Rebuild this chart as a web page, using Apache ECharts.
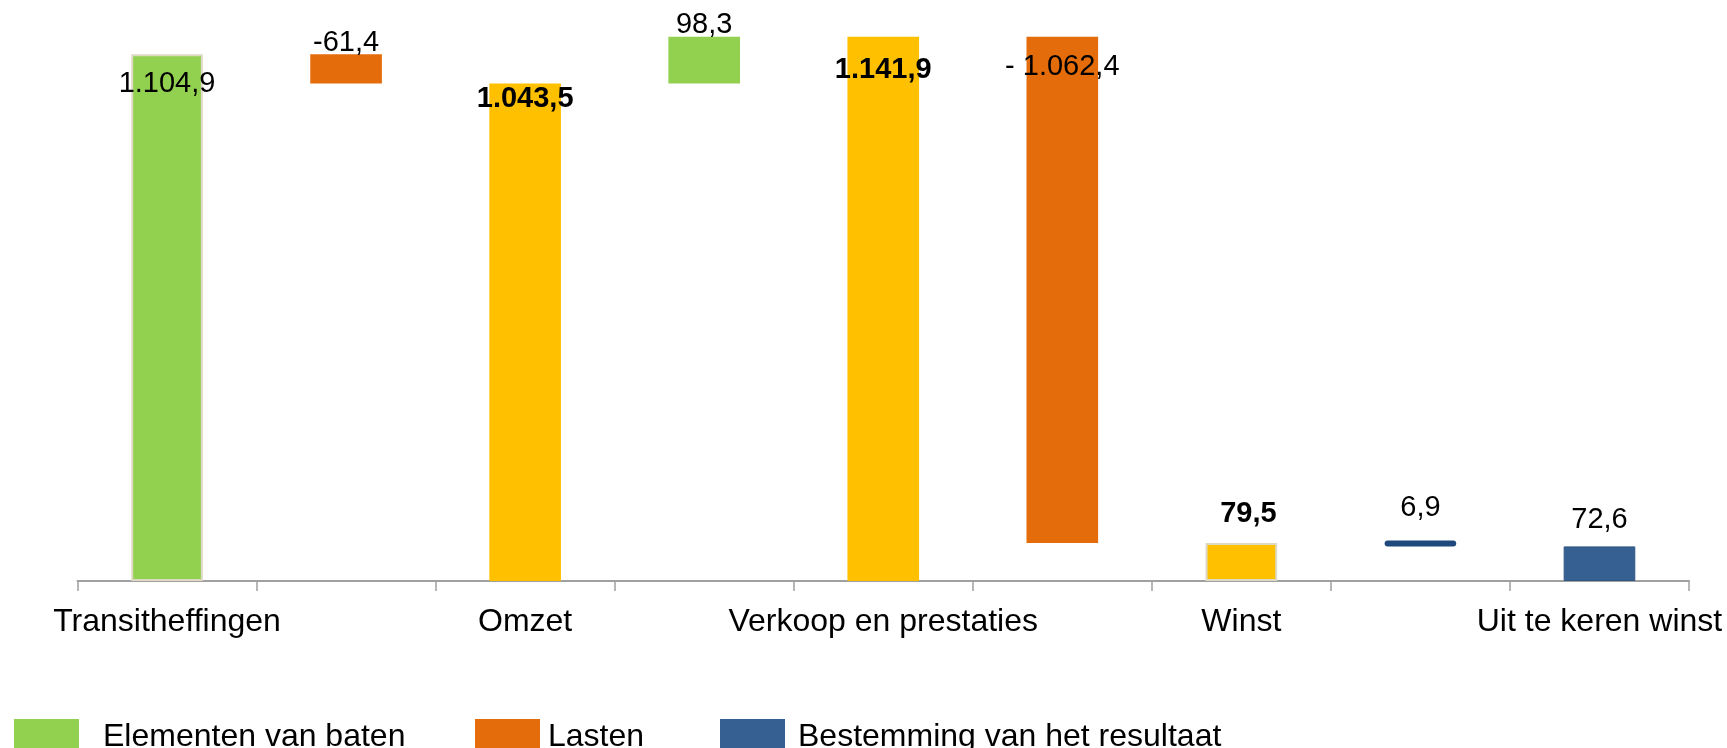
<!DOCTYPE html>
<html>
<head>
<meta charset="utf-8">
<script src="https://cdn.jsdelivr.net/npm/echarts@6/dist/echarts.min.js"></script>
<style>
html,body{margin:0;padding:0;background:#fff;}
#chart{width:1727px;height:748px;}
</style>
</head>
<body>
<div id="chart"></div>
<script>
// ---- Data ----
const categories = ['Transitheffingen', '', 'Omzet', '', 'Verkoop en prestaties', '', 'Winst', '', 'Uit te keren winst'];
const amounts = [1104.9, -61.4, 1043.5, 98.3, 1141.9, -1062.4, 79.5, -6.9, 72.6];
const isTotal = [true, false, true, false, true, false, true, false, true];
const kinds = ['baten', 'lasten', 'total', 'baten', 'total', 'lasten', 'total', 'bestemming', 'bestemming'];
const valueLabels = ['1.104,9', '-61,4', '1.043,5', '98,3', '1.141,9', '- 1.062,4', '79,5', '6,9', '72,6'];
const legendNames = ['Elementen van baten', 'Lasten', 'Bestemming van het resultaat'];

// ---- Waterfall geometry from data ----
const bases = [], heights = [];
let running = 0;
amounts.forEach((a, i) => {
  if (isTotal[i]) { bases.push(0); heights.push(a); running = a; }
  else if (a >= 0) { bases.push(running); heights.push(a); running += a; }
  else { bases.push(running + a); heights.push(-a); running += a; }
});

const FONT = "'Liberation Sans', Arial, sans-serif";
const colors = { baten: '#92D050', lasten: '#E46C0A', total: '#FFC000', bestemming: '#376092' };

// label styling per bar (style only)
const labelStyle = [
  { position: 'insideTop', distance: 15 },
  { position: 'top', distance: -3 },
  { position: 'insideTop', distance: 1, bold: true },
  { position: 'top', distance: -3 },
  { position: 'insideTop', distance: 19, bold: true },
  { position: 'insideTop', distance: 16 },
  { position: 'top', distance: 15, bold: true, offset: [7, 0] },
  { position: 'top', distance: 18 },
  { position: 'top', distance: 12 }
];

function itemFor(kind, i) {
  if (kinds[i] !== kind) return '-';
  const ls = labelStyle[i];
  const item = {
    value: heights[i],
    label: {
      show: true,
      position: ls.position,
      distance: ls.distance,
      offset: ls.offset || [0, 0],
      formatter: valueLabels[i],
      color: '#000',
      fontFamily: FONT,
      fontSize: 29,
      fontWeight: ls.bold ? 'bold' : 'normal'
    },
    itemStyle: {}
  };
  if (i === 0 || i === 6) { item.itemStyle.borderColor = '#DDD9C3'; item.itemStyle.borderWidth = 2; }
  if (i === 7) {
    item.itemStyle.color = '#1F497D';
    item.itemStyle.borderRadius = 3;
  }
  if (i === 8) { item.itemStyle.borderColor = '#2F5583'; item.itemStyle.borderWidth = 1; }
  return item;
}

const seriesDefs = [
  { name: 'Elementen van baten', kind: 'baten' },
  { name: 'Lasten', kind: 'lasten' },
  { name: 'Totaal', kind: 'total' },
  { name: 'Bestemming van het resultaat', kind: 'bestemming', minH: 6 }
];

const series = [{
  name: 'base',
  type: 'bar',
  stack: 'wf',
  barWidth: '40%',
  silent: true,
  itemStyle: { color: 'transparent' },
  data: bases
}].concat(seriesDefs.map(s => ({
  name: s.name,
  type: 'bar',
  stack: 'wf',
  barWidth: '40%',
  barMinHeight: s.minH || 0,
  itemStyle: { color: colors[s.kind] },
  data: categories.map((c, i) => itemFor(s.kind, i))
})));

const legendLeft = [9, 470, 715];
const legendPad = [19, 3, 8];

const chart = echarts.init(document.getElementById('chart'));
chart.setOption({
  animation: false,
  backgroundColor: '#fff',
  grid: { left: 77.5, right: 38, top: 9, bottom: 167, containLabel: false },
  xAxis: {
    type: 'category',
    data: categories,
    axisLine: { lineStyle: { color: '#A0A0A0', width: 2 } },
    axisTick: { show: true, length: 10, interval: 0, lineStyle: { color: '#A0A0A0', width: 1.5 } },
    axisLabel: { interval: 0, color: '#000', fontFamily: FONT, fontSize: 32, margin: 25 }
  },
  yAxis: { type: 'value', min: 0, max: 1200, show: false, splitLine: { show: false } },
  legend: legendNames.map((n, k) => ({
    data: [n],
    left: legendLeft[k],
    top: 714,
    itemWidth: 65,
    itemHeight: 36,
    icon: 'rect',
    selectedMode: false,
    textStyle: { color: '#000', fontFamily: FONT, fontSize: 32, padding: [0, 0, 0, legendPad[k]] }
  })),
  series: series
});
</script>
</body>
</html>
